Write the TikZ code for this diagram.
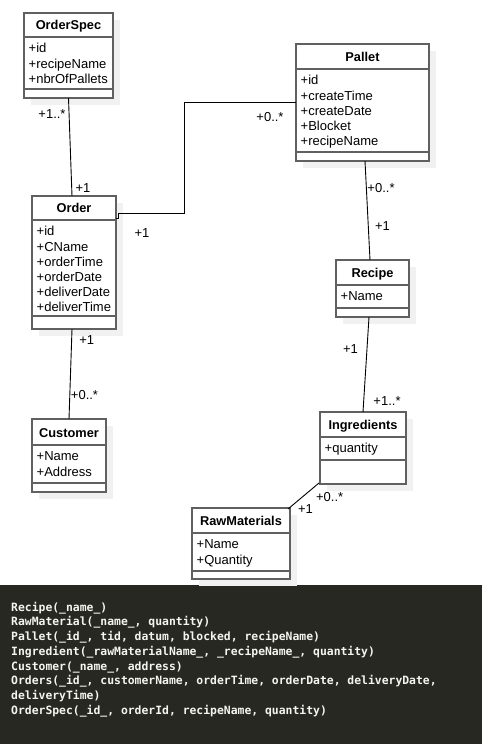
\documentclass[tikz,border=0pt]{standalone}
\usepackage{fontspec}
\setmainfont{Liberation Sans}
\setmonofont{DejaVu Sans Mono}
\usetikzlibrary{fit}

\definecolor{boxgray}{RGB}{96,96,96}
\definecolor{shadowgray}{RGB}{241,241,241}
\definecolor{panel}{RGB}{39,40,34}
\definecolor{codetext}{RGB}{245,245,240}

% name, left, top, right, bottom, title line, bottom line, title, attributes
\newcommand{\umlclass}[9]{%
	\fill[shadowgray] ({#2+7},{#3+7}) rectangle ({#4+7},{#5+7});
	\node[classbox, fit={(#2,#3) (#4,#5)}] (#1) {};
	\draw[boxline] (#1.west |- 0,#6) -- (#1.east |- 0,#6);
	\draw[boxline] (#1.west |- 0,#7) -- (#1.east |- 0,#7);
	\node[classname] (#1-name) at ({(#2+#4)/2},{#6-7.3}) {#8};
	\foreach \a [count=\i] in {#9}
		\node[attr] (#1-\i) at ({#2+4.5},{#6+0.6+\i*15.2}) {\a};
}

\begin{document}
\begin{tikzpicture}[x=1pt,y=-1pt,
	classbox/.style = {draw=boxgray, line width=1.3pt, fill=white,
		inner sep=0, outer sep=0},
	boxline/.style = {draw=boxgray, line width=1.3pt},
	classname/.style = {font=\fontsize{12.8}{15}\selectfont\bfseries,
		inner sep=0, anchor=base},
	attr/.style = {font=\fontsize{13}{15}\selectfont,
		inner sep=0, anchor=base west},
	mult/.style = {font=\fontsize{13}{15}\selectfont,
		inner sep=0, anchor=base},
	assoc/.style = {line width=0.9pt},
	code/.style = {font=\fontsize{11.4}{14}\selectfont\ttfamily\bfseries,
		text=codetext, inner sep=0, anchor=base west}]

	\useasboundingbox (0,0) rectangle (482,744);
	\fill[white] (0,0) rectangle (482,585);
	\fill[panel] (0,585) rectangle (482,744);

	\umlclass{orderspec}{24}{13}{113}{98}{37}{89}{OrderSpec}{+id,+recipeName,+nbrOfPallets}
	\umlclass{order}{32}{196}{116}{329}{220}{316}{Order}{+id,+CName,+orderTime,+orderDate,+deliverDate,+deliverTime}
	\umlclass{pallet}{296}{44}{429}{161}{69}{152}{Pallet}{+id,+createTime,+createDate,+Blocket,+recipeName}
	\umlclass{recipe}{336}{260}{409}{317}{285}{308}{Recipe}{+Name}
	\umlclass{customer}{32}{419}{106}{492}{445}{483}{Customer}{+Name,+Address}
	\umlclass{ingredients}{320}{412}{406}{484}{437}{460}{Ingredients}{+quantity}
	\umlclass{rawmat}{192}{508}{290}{579}{533}{571}{RawMaterials}{+Name,+Quantity}

	% associations
	\draw[assoc] (orderspec.south) -- ([xshift=-2pt]order.north);
	\coordinate (bend1) at (184,213);
	\coordinate (bend2) at (184,102);
	\draw[assoc] (order.east |- 0,218) -- ++(2,0) -- ++(0,-5) -- (bend1)
		-- (bend2) -- (pallet.west |- bend2);
	\draw[assoc] ([xshift=2.5pt]pallet.south) -- ([xshift=-2.5pt]recipe.north);
	\draw[assoc] ([xshift=-2pt]order.south) -- (customer.north);
	\draw[assoc] ([xshift=-3.5pt]recipe.south) -- (ingredients.north);
	\draw[assoc] ([xshift=-1pt,yshift=1pt]ingredients.south west)
		-- ([xshift=-2pt,yshift=-1pt]rawmat.north east);

	% multiplicities
	\node[mult] (m1) at (52,118.3) {+1..*};
	\node[mult] (m2) at (83,192.7) {+1};
	\node[mult] (m3) at (142,237.3) {+1};
	\node[mult] (m4) at (270,121.7) {+0..*};
	\node[mult] (m5) at (381,192.7) {+0..*};
	\node[mult] (m6) at (382.5,230) {+1};
	\node[mult] (m7) at (86.7,344) {+1};
	\node[mult] (m8) at (84.5,399.3) {+0..*};
	\node[mult] (m9) at (350.5,353.3) {+1};
	\node[mult] (m10) at (387,405) {+1..*};
	\node[mult] (m11) at (329.7,501) {+0..*};
	\node[mult] (m12) at (305.5,513.3) {+1};

	% relational schema
	\foreach \ln [count=\i] in {{Recipe(\_name\_)},
		{RawMaterial(\_name\_, quantity)},
		{Pallet(\_id\_, tid, datum, blocked, recipeName)},
		{Ingredient(\_rawMaterialName\_, \_recipeName\_, quantity)},
		{Customer(\_name\_, address)},
		{Orders(\_id\_, customerName, orderTime, orderDate, deliveryDate,},
		{deliveryTime)},
		{OrderSpec(\_id\_, orderId, recipeName, quantity)}}
		\node[code] (code-\i) at (11,{596.3+\i*14.76}) {\ln};

\end{tikzpicture}
\end{document}
